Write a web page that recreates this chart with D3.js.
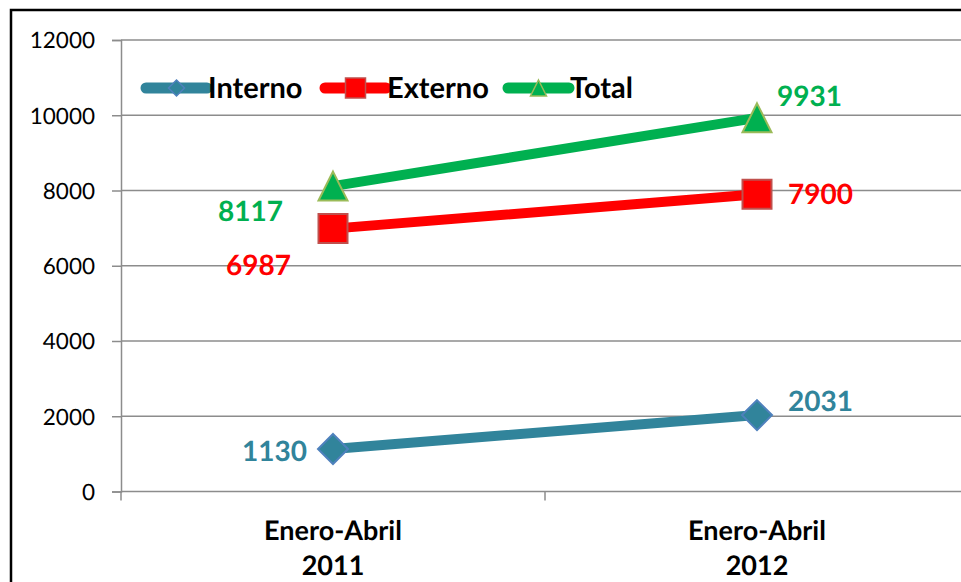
<!DOCTYPE html>
<html><head><meta charset="utf-8">
<script src="https://cdn.jsdelivr.net/npm/d3@7"></script>
<style>
html,body{margin:0;padding:0;background:#fff;overflow:hidden}
svg{display:block;font-family:Lato,"Open Sans",sans-serif;text-rendering:geometricPrecision}
</style></head>
<body>
<svg id="c" width="961" height="582"></svg>
<script>
// ---- data ----
const categories = ["Enero-Abril\n2011", "Enero-Abril\n2012"];
const seriesNames = ["Interno", "Externo", "Total"];
const interno = [1130, 2031];
const externo = [6987, 7900];
const total = [8117, 9931];
const yTicks = [0, 2000, 4000, 6000, 8000, 10000, 12000];

(function() {
// ---- style ----
const seriesStyle = [
  {name: seriesNames[0], values: interno, color: "#31849B", stroke: "#4F81BD", shape: "diamond", lab: [[-26, 2, "end"], [31, -14, "start"]]},
  {name: seriesNames[1], values: externo, color: "#FF0000", stroke: "#C0504D", shape: "square", lab: [[-42, 36, "end"], [31, 0, "start"]]},
  {name: seriesNames[2], values: total, color: "#00B050", stroke: "#9BBB59", shape: "triangle", lab: [[-50, 25, "end"], [20, -22, "start"]]}
];

const svg = d3.select("#c");
const pLeft = 121, pRight = 969, pTop = 40, pBottom = 491.5;

// border
svg.append("rect").attr("x", 11).attr("y", 10).attr("width", 1000).attr("height", 700)
  .attr("fill", "none").attr("stroke", "#000").attr("stroke-width", 2.5);

const x = d3.scaleBand().domain(categories).range([pLeft, pRight]).padding(0);
const y = d3.scaleLinear().domain([0, 12000]).range([pBottom, pTop]);
const cx = c => x(c) + x.bandwidth() / 2;

// gridlines
svg.append("g").selectAll("line").data(yTicks.filter(t => t > 0)).join("line")
  .attr("x1", pLeft).attr("x2", pRight).attr("y1", d => y(d)).attr("y2", d => y(d))
  .attr("stroke", "#8c8c8c").attr("stroke-width", 1.5);

// y axis
const yAxis = svg.append("g").attr("transform", `translate(${pLeft},0)`)
  .call(d3.axisLeft(y).tickValues(yTicks).tickSize(9).tickPadding(17).tickFormat(d3.format("d")));
yAxis.select(".domain").attr("stroke", "#8c8c8c").attr("stroke-width", 1.5);
yAxis.selectAll(".tick line").attr("stroke", "#8c8c8c").attr("stroke-width", 1.5);
yAxis.selectAll(".tick text").attr("font-size", 22.5).attr("fill", "#000")
  .attr("font-family", "Lato, sans-serif").attr("dy", "0.35em");

// x axis
svg.append("line").attr("x1", pLeft).attr("x2", pRight).attr("y1", y(0)).attr("y2", y(0))
  .attr("stroke", "#8c8c8c").attr("stroke-width", 1.5);
const bounds = categories.map(c => x(c)).concat([x(categories[categories.length - 1]) + x.bandwidth()]);
svg.append("g").selectAll("line").data(bounds).join("line")
  .attr("x1", d => d).attr("x2", d => d).attr("y1", y(0)).attr("y2", y(0) + 9)
  .attr("stroke", "#8c8c8c").attr("stroke-width", 1.5);
const xl = svg.append("g").selectAll("text").data(categories).join("text")
  .attr("x", d => cx(d)).attr("text-anchor", "middle")
  .attr("font-size", 27).attr("font-weight", "bold").attr("fill", "#000");
xl.each(function(d) {
  const parts = d.split("\n");
  d3.select(this).selectAll("tspan").data(parts).join("tspan")
    .attr("x", cx(d)).attr("y", (p, i) => 540 + i * 35).text(p => p);
});

// symbols
function sym(shape, size) {
  const h = size / 2;
  if (shape === "diamond") return `M0,${-h}L${h},0L0,${h}L${-h},0Z`;
  if (shape === "square") return `M${-h},${-h}H${h}V${h}H${-h}Z`;
  return `M0,${-h}L${h},${h}L${-h},${h}Z`;
}

// lines
const line = d3.line().x((d, i) => cx(categories[i])).y(d => y(d));
seriesStyle.forEach(s => {
  svg.append("path").datum(s.values).attr("d", line)
    .attr("fill", "none").attr("stroke", s.color).attr("stroke-width", 10).attr("stroke-linecap", "round");
});
seriesStyle.forEach(s => {
  svg.append("g").selectAll("path").data(s.values).join("path")
    .attr("transform", (d, i) => `translate(${cx(categories[i])},${y(d)})`)
    .attr("d", sym(s.shape, s.shape === "diamond" ? 30 : 29))
    .attr("fill", s.color).attr("stroke", s.stroke).attr("stroke-width", 2);
});
// data labels
seriesStyle.forEach(s => {
  svg.append("g").selectAll("text").data(s.values).join("text")
    .attr("x", (d, i) => cx(categories[i]) + s.lab[i][0])
    .attr("y", (d, i) => y(d) + s.lab[i][1])
    .attr("dy", "0.36em").attr("text-anchor", (d, i) => s.lab[i][2])
    .attr("font-size", 28).attr("font-weight", "bold").attr("fill", s.color)
    .text(d => d);
});

// legend
const legX = [146, 325, 508];
const legendG = svg.append("g");
seriesStyle.forEach((s, i) => {
  const g = legendG.append("g").attr("transform", `translate(${legX[i]},88)`);
  g.append("line").attr("x1", 0).attr("x2", 61).attr("stroke", s.color)
    .attr("stroke-width", 11).attr("stroke-linecap", "round");
  g.append("path").attr("transform", `translate(30.5,0)`)
    .attr("d", sym(s.shape, s.shape === "square" ? 20 : 16))
    .attr("fill", s.color).attr("stroke", s.stroke).attr("stroke-width", 1.5);
  g.append("text").attr("x", 62).attr("dy", "0.36em").attr("font-size", 29)
    .attr("font-weight", "bold").attr("fill", "#000").text(s.name);
});
})();
</script>
</body></html>
